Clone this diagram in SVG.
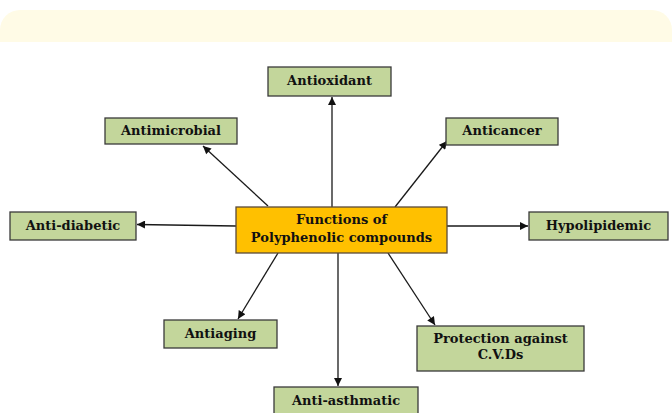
<svg xmlns="http://www.w3.org/2000/svg" width="672" height="413" viewBox="0 0 672 413">
<style>
.box{fill:#C3D69B;stroke:#3a3a3a;stroke-width:1.3}
.center{fill:#FFC000;stroke:#5a4a3a;stroke-width:1.3}
text{font-family:'DejaVu Serif',serif;font-weight:700;font-size:13px;fill:#111;text-anchor:middle}
.c{stroke:#1a1a1a;stroke-width:1.3;fill:none;marker-end:url(#ah)}
</style>
<defs>
<marker id="ah" viewBox="0 0 10 10" refX="10" refY="5" markerWidth="9" markerHeight="8" markerUnits="userSpaceOnUse" orient="auto">
<path d="M0,0 L10,5 L0,10 Z" fill="#111"/>
</marker>
</defs>
<rect width="672" height="413" fill="#fff"/>
<path d="M0,42 V30 A20,20 0 0 1 20,10 H652 A20,20 0 0 1 672,30 V42 Z" fill="#FFFBE6"/>
<g id="connectors">
<line class="c" x1="332" y1="207" x2="332" y2="97"/>
<line class="c" x1="268" y1="206" x2="203" y2="146"/>
<line class="c" x1="395" y1="207" x2="447" y2="141"/>
<line class="c" x1="236" y1="226" x2="137" y2="224.5"/>
<line class="c" x1="447" y1="226" x2="528" y2="226"/>
<line class="c" x1="278" y1="253" x2="238" y2="319"/>
<line class="c" x1="338" y1="253" x2="338" y2="386"/>
<line class="c" x1="388" y1="253" x2="435" y2="325"/>
</g>
<g id="center">
<rect class="center" x="236" y="207" width="211" height="46"/>
<text x="341.5" y="224">Functions of</text>
<text x="341.5" y="242">Polyphenolic compounds</text>
</g>
<g id="antioxidant">
<rect class="box" x="268" y="67" width="123" height="29"/>
<text x="329.5" y="85">Antioxidant</text>
</g>
<g id="antimicrobial">
<rect class="box" x="105" y="118" width="132" height="26"/>
<text x="171" y="135">Antimicrobial</text>
</g>
<g id="anticancer">
<rect class="box" x="446" y="118" width="112" height="27"/>
<text x="502" y="135">Anticancer</text>
</g>
<g id="antidiabetic">
<rect class="box" x="10" y="212" width="126" height="28"/>
<text x="73" y="229.5">Anti-diabetic</text>
</g>
<g id="hypolipidemic">
<rect class="box" x="529" y="212" width="139" height="28"/>
<text x="598.5" y="229.5">Hypolipidemic</text>
</g>
<g id="antiaging">
<rect class="box" x="164" y="320" width="113" height="28"/>
<text x="220.5" y="337.5">Antiaging</text>
</g>
<g id="protection">
<rect class="box" x="417" y="326" width="167" height="45"/>
<text x="500.5" y="343">Protection against</text>
<text x="500.5" y="359">C.V.Ds</text>
</g>
<g id="antiasthmatic">
<rect class="box" x="274" y="387" width="144" height="30"/>
<text x="346" y="405">Anti-asthmatic</text>
</g>
</svg>
